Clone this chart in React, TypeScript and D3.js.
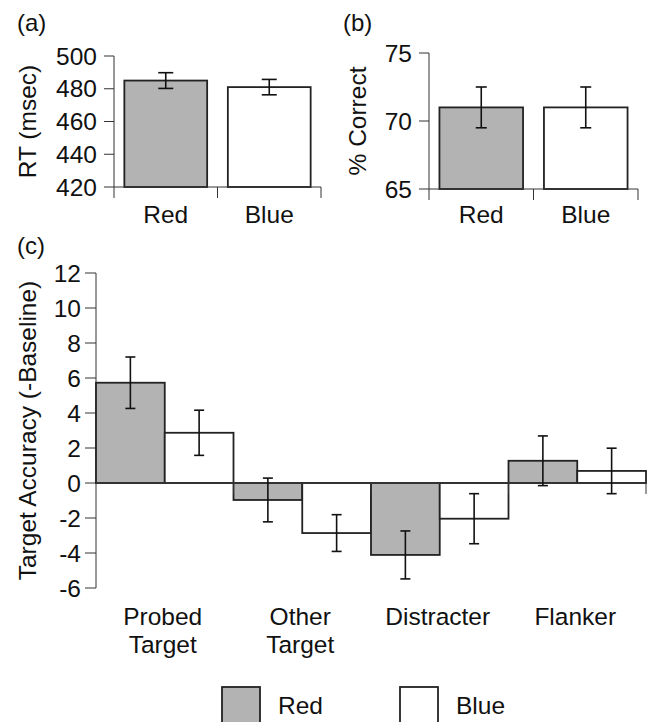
import React from "react";
import * as d3 from "d3";

const colorNames = ["Red", "Blue"];
const rtValues = [485, 481];
const rtErrors = [4.8, 4.7];
const rtTicks = [420, 440, 460, 480, 500];

const pcValues = [71, 71];
const pcErrors = [1.5, 1.5];
const pcTicks = [65, 70, 75];

const conditions = ["Probed Target", "Other Target", "Distracter", "Flanker"];
const conditionLines = [["Probed", "Target"], ["Other", "Target"], ["Distracter"], ["Flanker"]];
const redAcc = [5.73, -0.97, -4.11, 1.27];
const redErr = [1.47, 1.25, 1.37, 1.42];
const blueAcc = [2.87, -2.86, -2.04, 0.69];
const blueErr = [1.29, 1.05, 1.43, 1.3];
const accTicks = [-6, -4, -2, 0, 2, 4, 6, 8, 10, 12];

const FONT = "'Liberation Sans', Arial, Helvetica, sans-serif";
const FS = 24.5;
const FILLS: Record<string, string> = { Red: "#b3b3b3", Blue: "#ffffff" };
const BAR_STROKE = "#222";
const AXIS = "#333";

function ErrorBar({ x, y0, y1, cap }: { x: number; y0: number; y1: number; cap: number }) {
  return (
    <g stroke="#111" strokeWidth={1.6}>
      <line x1={x} x2={x} y1={y0} y2={y1} />
      <line x1={x - cap} x2={x + cap} y1={y0} y2={y0} />
      <line x1={x - cap} x2={x + cap} y1={y1} y2={y1} />
    </g>
  );
}

function SmallPanel({
  left, right, top, bottom, domain, ticks, values, errors, label, tag, tagX, labelX, labelGap, cap,
}: any) {
  const y = d3.scaleLinear().domain(domain).range([bottom, top]);
  const x = d3.scaleBand().domain(colorNames).range([left, right]).paddingInner(0.2).paddingOuter(0.1);
  const step = x.step();
  const boundaries = d3.range(colorNames.length + 1).map((i) => left + i * step);
  return (
    <g>
      <text x={tagX} y={31} fontSize={24} fontFamily={FONT} fill="#111">{tag}</text>
      <line x1={left} x2={left} y1={top} y2={bottom} stroke={AXIS} strokeWidth={1} />
      {ticks.map((t: number) => (
        <g key={t}>
          <line x1={left - 10} x2={left} y1={y(t)} y2={y(t)} stroke={AXIS} strokeWidth={1} />
          <text x={left - labelGap} y={y(t)} dy="0.35em" textAnchor="end" fontSize={FS} fontFamily={FONT} fill="#111">{t}</text>
        </g>
      ))}
      <text
        transform={`translate(${labelX},${(top + bottom) / 2}) rotate(-90)`}
        textAnchor="middle" fontSize={FS} fontFamily={FONT} fill="#111"
      >{label}</text>
      {colorNames.map((c, i) => (
        <rect key={c} x={x(c)} y={y(values[i])} width={x.bandwidth()} height={bottom - y(values[i])}
          fill={FILLS[c]} stroke={BAR_STROKE} strokeWidth={1.8} />
      ))}
      {colorNames.map((c, i) => (
        <ErrorBar key={c} x={(x(c) as number) + x.bandwidth() / 2} y0={y(values[i] + errors[i])} y1={y(values[i] - errors[i])} cap={cap} />
      ))}
      <line x1={left} x2={boundaries[boundaries.length - 1]} y1={bottom} y2={bottom} stroke={AXIS} strokeWidth={1} />
      {boundaries.map((b, i) => (
        <line key={i} x1={b} x2={b} y1={bottom} y2={bottom + 11} stroke={AXIS} strokeWidth={1} />
      ))}
      {colorNames.map((c) => (
        <text key={c} x={(x(c) as number) + x.bandwidth() / 2} y={223} textAnchor="middle" fontSize={FS} fontFamily={FONT} fill="#111">{c}</text>
      ))}
    </g>
  );
}

export default function App() {
  const left = 96, right = 646, top = 273, bottom = 588;
  const y = d3.scaleLinear().domain([-6, 12]).range([bottom, top]);
  const xg = d3.scaleBand().domain(conditions).range([left, right]).padding(0);
  const xs = d3.scaleBand().domain(colorNames).range([0, xg.bandwidth()]).padding(0);
  const series = [
    { name: "Red", vals: redAcc, errs: redErr },
    { name: "Blue", vals: blueAcc, errs: blueErr },
  ];
  const y0 = y(0);
  const boundaries = d3.range(conditions.length + 1).map((i) => left + i * xg.step());

  return (
    <svg width={649} height={722} style={{ position: "absolute", left: 0, top: 0, background: "#fff" }}>
      <rect width={649} height={722} fill="#fff" />
      <SmallPanel left={114} right={321} top={56} bottom={187} domain={[420, 500]} ticks={rtTicks}
        values={rtValues} errors={rtErrors} label="RT (msec)" tag="(a)" tagX={17} labelX={36} labelGap={17} cap={7.5} />
      <SmallPanel left={429} right={638} top={53} bottom={189} domain={[65, 75]} ticks={pcTicks}
        values={pcValues} errors={pcErrors} label="% Correct" tag="(b)" tagX={343} labelX={366} labelGap={17} cap={5.5} />

      <text x={17} y={254} fontSize={24} fontFamily={FONT} fill="#111">(c)</text>
      <line x1={left} x2={left} y1={top} y2={bottom} stroke={AXIS} strokeWidth={1} />
      {accTicks.map((t) => (
        <g key={t}>
          <line x1={left - 11} x2={left} y1={y(t)} y2={y(t)} stroke={AXIS} strokeWidth={1} />
          <text x={left - 15} y={y(t)} dy="0.35em" textAnchor="end" fontSize={FS} fontFamily={FONT} fill="#111">{t}</text>
        </g>
      ))}
      <text transform={`translate(36,${(top + bottom) / 2}) rotate(-90)`} textAnchor="middle" fontSize={FS} fontFamily={FONT} fill="#111">
        Target Accuracy (-Baseline)
      </text>
      {conditions.map((c, ci) => (
        <g key={c}>
          {series.map((s) => {
            const v = s.vals[ci];
            const bx = (xg(c) as number) + (xs(s.name) as number);
            return (
              <rect key={s.name} x={bx} y={Math.min(y(v), y0)} width={xs.bandwidth()} height={Math.abs(y(v) - y0)}
                fill={FILLS[s.name]} stroke={BAR_STROKE} strokeWidth={1.8} />
            );
          })}
        </g>
      ))}
      <line x1={left} x2={right} y1={y0} y2={y0} stroke={AXIS} strokeWidth={1.3} />
      {boundaries.slice(1).map((b, i) => (
        <line key={i} x1={b} x2={b} y1={y0} y2={y0 + 11} stroke={AXIS} strokeWidth={1} />
      ))}
      {conditions.map((c, ci) =>
        series.map((s) => {
          const cx = (xg(c) as number) + (xs(s.name) as number) + xs.bandwidth() / 2;
          const v = s.vals[ci], e = s.errs[ci];
          return <ErrorBar key={c + s.name} x={cx} y0={y(v + e)} y1={y(v - e)} cap={5} />;
        })
      )}
      {conditions.map((c, ci) => (
        <text key={c} textAnchor="middle" fontSize={FS} fontFamily={FONT} fill="#111">
          {conditionLines[ci].map((ln, li) => (
            <tspan key={li} x={(xg(c) as number) + xg.bandwidth() / 2 - 2} y={625 + li * 28}>{ln}</tspan>
          ))}
        </text>
      ))}

      {colorNames.map((c, i) => (
        <g key={c} transform={`translate(${222 + i * 178},687)`}>
          <rect x={0} y={0} width={38} height={45} fill={FILLS[c]} stroke={BAR_STROKE} strokeWidth={1.8} />
          <text x={56} y={27} fontSize={FS} fontFamily={FONT} fill="#111">{c}</text>
        </g>
      ))}
    </svg>
  );
}
